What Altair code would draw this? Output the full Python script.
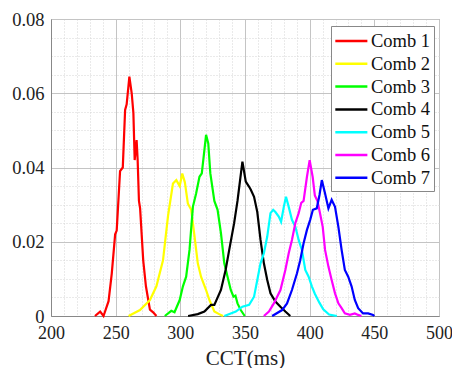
import altair as alt
import pandas as pd

series_names = ["Comb 1", "Comb 2", "Comb 3", "Comb 4", "Comb 5", "Comb 6", "Comb 7"]
series_colors = ["#ff0000", "#ffff00", "#00ff00", "#000000", "#00ffff", "#ff00ff", "#0000ff"]

comb1_x = [234, 238, 240.6, 244.5, 247, 249.6, 250.8, 253.4, 255.5, 257.3, 258.5, 260.6, 262.4, 263.7, 264.7, 266.2, 267, 268, 268.9, 271.3, 273.4, 275.2, 276.5, 279, 281.5]
comb1_y = [0, .0012, 0, .004, .0115, .022, .023, .039, .040, .0555, .057, .0645, .060, .0547, .042, .0474, .042, .031, .029, .015, .008, .0043, .0017, .001, 0]

comb2_x = [260, 268.8, 276.5, 281.5, 286.6, 290.5, 294.3, 296.9, 299.5, 301.5, 303.5, 305.8, 308.4, 311, 313.5, 316, 319.9, 322.5, 326.3, 330, 333]
comb2_y = [0, .0016, .0043, .008, .015, .027, .0357, .0366, .035, .0384, .036, .0303, .0286, .0214, .0142, .0106, .007, .0043, .0012, .0005, 0]

comb3_x = [288, 293, 295.5, 299.5, 302, 304.5, 307.1, 309.7, 312.2, 314.8, 316.6, 318.6, 319.9, 321.6, 323.2, 326.3, 328.8, 331.4, 334, 336.5, 339, 341.1, 342.6, 344.2, 346.7, 349.8]
comb3_y = [0, .0014, .001, .0043, .008, .0106, .0178, .0294, .033, .0375, .0384, .0447, .0488, .0465, .0384, .031, .0286, .0223, .0142, .0106, .007, .0052, .0055, .0034, .0016, 0]

comb4_x = [306, 313.5, 318.6, 323.7, 326.3, 331.4, 335, 337.8, 341.6, 344.2, 346.2, 348, 350.6, 353.2, 354.5, 357, 359.5, 362, 364.6, 367.2, 369.7, 373.5, 377.4, 381.2, 385]
comb4_y = [0, .0005, .0012, .003, .003, .007, .0124, .0178, .025, .031, .0366, .0416, .0362, .0348, .034, .0321, .028, .0205, .0142, .0097, .0061, .0039, .0025, .0012, 0]

comb5_x = [334, 342.9, 348, 353.2, 357, 359.5, 362, 364.6, 367.2, 369.7, 371.8, 373.5, 376.1, 377.9, 380, 381.7, 383.8, 386.3, 388.9, 391.5, 394, 396.6, 399.2, 401.7, 404, 407.5, 410.5, 415, 421]
comb5_y = [0, .0012, .0025, .003, .0052, .0097, .0142, .0169, .0214, .0277, .0286, .028, .0268, .0254, .0294, .0321, .0294, .0259, .0241, .0205, .0178, .0124, .0106, .008, .006, .0036, .0018, .0004, 0]

comb6_x = [364.6, 368.5, 372.3, 377.4, 381.2, 383.8, 386.3, 388.9, 391.5, 393.5, 395.3, 397.9, 400, 402.3, 404, 406, 408, 410.1, 411.9, 414.5, 417, 419.6, 422.2, 424.7, 427.2, 431.1, 434.9, 437.5, 440]
comb6_y = [0, .0012, .0034, .007, .0124, .0169, .0205, .025, .0277, .0305, .031, .0375, .042, .0375, .0325, .031, .0277, .024, .0178, .0133, .0097, .0061, .0034, .0021, .0007, .0003, .0007, .0003, 0]

comb7_x = [371, 378.7, 382.5, 386.3, 390.2, 392.7, 395.3, 397.9, 400.4, 402.5, 405.5, 407.6, 409.4, 411.9, 414.5, 417, 419.6, 422.2, 424.7, 427.2, 429.8, 432.4, 434.9, 437.5, 441.3, 445.2, 449, 450]
comb7_y = [0, .0016, .0034, .007, .0115, .015, .0196, .0232, .0259, .0286, .029, .0326, .0366, .033, .029, .0313, .0294, .024, .0178, .0124, .0106, .008, .0043, .0021, .0007, .0007, .0003, 0]

x_ticks = list(range(200, 501, 10))
y_ticks = [i * 0.005 for i in range(0, 17)]

all_x = [comb1_x, comb2_x, comb3_x, comb4_x, comb5_x, comb6_x, comb7_x]
all_y = [comb1_y, comb2_y, comb3_y, comb4_y, comb5_y, comb6_y, comb7_y]

rows = []
for name, xs, ys in zip(series_names, all_x, all_y):
    for i, (xv, yv) in enumerate(zip(xs, ys)):
        rows.append({"series": name, "cct": xv, "p": yv, "order": i})
df = pd.DataFrame(rows)

FONT = "Liberation Serif, Times New Roman, serif"

x_axis = alt.Axis(
    values=x_ticks,
    title="CCT(ms)",
    labelExpr="datum.value % 50 === 0 ? datum.label : ''",
    format="d",
    labelFont=FONT, labelFontSize=18, labelColor="#222", labelPadding=8,
    titleFont=FONT, titleFontSize=21, titleFontWeight="normal", titleColor="#222",
    titleBaseline="alphabetic", titleY=48,
    ticks=False,
    domainColor="#888",
    gridColor=alt.condition("datum.value % 50 === 0", alt.value("#c4c4c4"), alt.value("#d4d4d4")),
    gridDash=alt.condition("datum.value % 50 === 0", alt.value([]), alt.value([1, 2])),
    labelFlush=False,
)
y_axis = alt.Axis(
    values=y_ticks,
    title=None,
    labelExpr="abs(round(datum.value*1000) % 20) == 0 ? (datum.value == 0 ? '0' : format(datum.value, '.2f')) : ''",
    labelFont=FONT, labelFontSize=18.5, labelColor="#222", labelPadding=7,
    ticks=False,
    domainColor="#888",
    gridColor=alt.condition("abs(round(datum.value*1000) % 20) == 0", alt.value("#c4c4c4"), alt.value("#d4d4d4")),
    gridDash=alt.condition("abs(round(datum.value*1000) % 20) == 0", alt.value([]), alt.value([1, 2])),
    labelFlush=False,
)

chart = alt.Chart(df).mark_line(strokeWidth=2.2).encode(
    x=alt.X("cct:Q", scale=alt.Scale(domain=[200, 500], nice=False, zero=False), axis=x_axis),
    y=alt.Y("p:Q", scale=alt.Scale(domain=[0, 0.08], nice=False), axis=y_axis),
    color=alt.Color(
        "series:N",
        scale=alt.Scale(domain=series_names, range=series_colors),
        legend=alt.Legend(
            title=None, orient="none", legendX=280, legendY=7,
            symbolType="M-1,0H2", symbolSize=457, symbolStrokeWidth=2.5,
            labelFont=FONT, labelFontSize=18.5, labelColor="#111", labelOffset=13,
            strokeColor="#888", fillColor="white", padding=3, rowPadding=0.8,
        ),
    ),
    order="order:Q",
).properties(
    width=388, height=297,
    autosize=alt.AutoSizeParams(type="none"),
    padding={"left": 43, "top": 11, "right": 13, "bottom": 52},
).configure_view(stroke="#888")

chart.save("out.html", embed_options={"renderer": "svg", "actions": False})
